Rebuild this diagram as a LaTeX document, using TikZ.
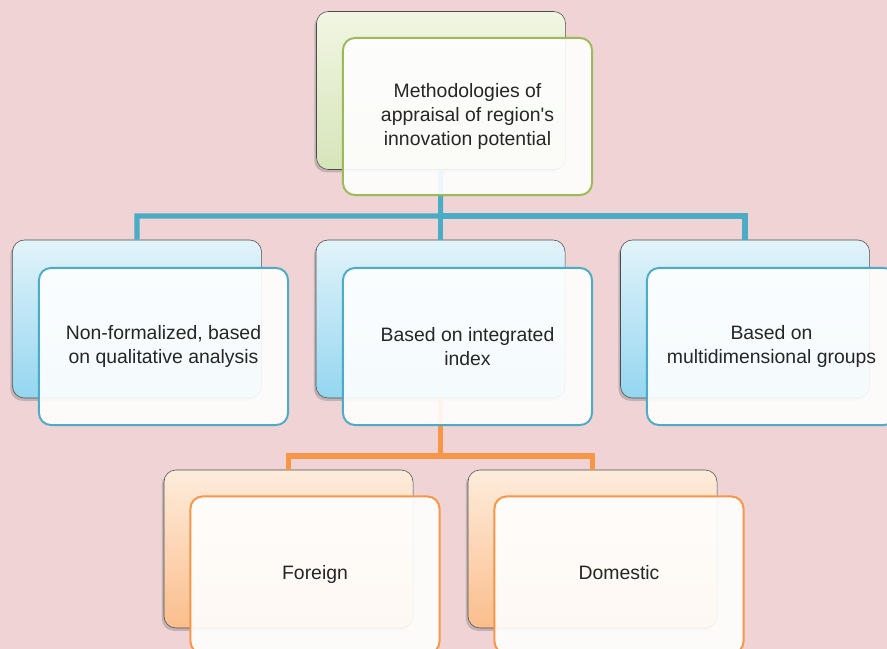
\documentclass[tikz,border=0pt]{standalone}
\usepackage{fontspec}
\setmainfont{Liberation Sans}
\usetikzlibrary{positioning,shadows}

\definecolor{bgpink}{RGB}{239,211,213}
\definecolor{grnline}{RGB}{155,187,89}
\definecolor{blueline}{RGB}{75,172,198}
\definecolor{orngline}{RGB}{247,150,70}
\definecolor{grntop}{RGB}{241,246,226}
\definecolor{grnbot}{RGB}{214,228,186}
\definecolor{bluetop}{RGB}{226,243,250}
\definecolor{bluebot}{RGB}{148,214,240}
\definecolor{orngtop}{RGB}{253,236,220}
\definecolor{orngbot}{RGB}{251,190,140}
\definecolor{txtgray}{RGB}{38,38,38}

\tikzset{
  backbox/.style={rectangle,rounded corners=0.3cm,draw=black!70,thin,
    minimum width=6.225cm,minimum height=3.95cm,
    drop shadow={shadow xshift=-1.5pt,shadow yshift=-2pt,opacity=0.4}},
  frontbox/.style={rectangle,rounded corners=0.3cm,line width=1.4pt,
    fill=white,fill opacity=0.9,text opacity=1,text=txtgray,align=center,
    minimum width=6.225cm,minimum height=3.925cm,
    font=\fontsize{13.8}{17.3}\selectfont},
  link/.style={line width=3.6pt}
}

\begin{document}
\begin{tikzpicture}[x=0.025cm,y=-0.025cm]
\fill[bgpink] (0,0) rectangle (887,649);
\useasboundingbox (0,0) rectangle (887,649);

% back boxes
\node[backbox,top color=grntop,bottom color=grnbot] (methback) at (441,90.5) {};
\node[backbox,top color=bluetop,bottom color=bluebot] (qualback) at (137,319) {};
\node[backbox,top color=bluetop,bottom color=bluebot] (integback) at (440.5,319) {};
\node[backbox,top color=bluetop,bottom color=bluebot] (multiback) at (745,319) {};
\node[backbox,top color=orngtop,bottom color=orngbot] (foreignback) at (288.5,549) {};
\node[backbox,top color=orngtop,bottom color=orngbot] (domesticback) at (592.5,549) {};

% connectors
\coordinate (bluebus) at (440.5,216);
\coordinate (orngbus) at (440.5,456);
\draw[link,blueline] (methback.south) -- (bluebus) -| (qualback.north);
\draw[link,blueline] (bluebus) -| (multiback.north);
\draw[link,blueline] (bluebus) -- (integback.north);
\draw[link,orngline] (integback.south) -- (orngbus) -| (foreignback.north);
\draw[link,orngline] (orngbus) -| (domesticback.north);

% front boxes
\node[frontbox,draw=grnline] (meth) at ([shift={(26.5,26)}]methback.center)
  {Methodologies of\\appraisal of region\textquotesingle s\\innovation potential};
\node[frontbox,draw=blueline] (qual) at ([shift={(26.5,27.5)}]qualback.center)
  {Non-formalized, based\\on qualitative analysis};
\node[frontbox,draw=blueline] (integ) at ([shift={(27,27.5)}]integback.center)
  {Based on integrated\\index};
\node[frontbox,draw=blueline] (multi) at ([shift={(26.5,27.5)}]multiback.center)
  {Based on\\multidimensional groups};
\node[frontbox,draw=orngline] (foreign) at ([shift={(26.5,26)}]foreignback.center)
  {\strut Foreign};
\node[frontbox,draw=orngline] (domestic) at ([shift={(26.5,26)}]domesticback.center)
  {\strut Domestic};

\end{tikzpicture}
\end{document}
